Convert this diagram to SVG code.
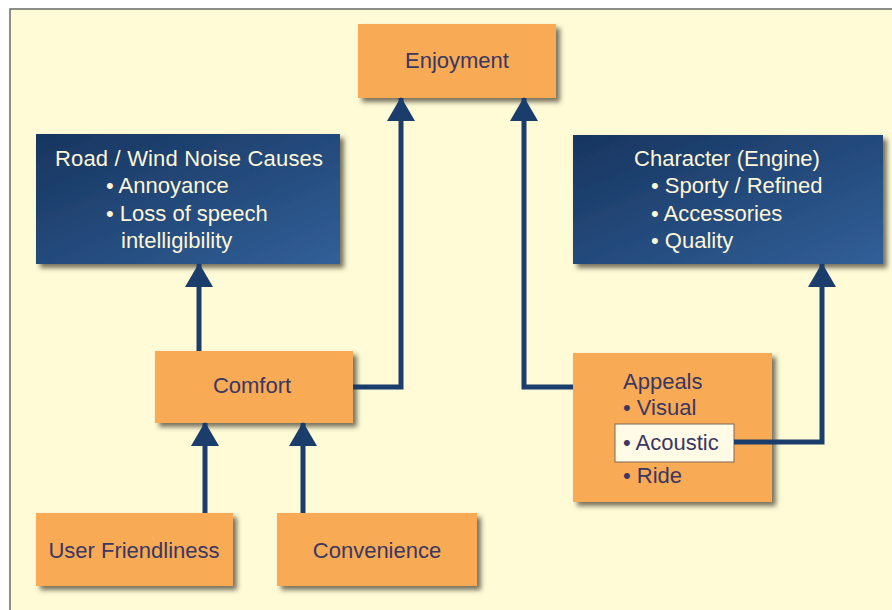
<svg xmlns="http://www.w3.org/2000/svg" width="892" height="610" viewBox="0 0 892 610">
  <defs>
    <style>
      .lbl { font-family: "Liberation Sans", Arial, sans-serif; font-size: 22px; }
      .dark { fill: #3a3763; }
      .light { fill: #fff6d8; }
      .orange { fill: #f8aa55; }
      .blue { fill: url(#blueGrad); }
      .wire { fill: none; stroke: #1b3d6b; stroke-width: 5; stroke-linejoin: miter; }
    </style>
    <linearGradient id="blueGrad" x1="0" y1="0" x2="1" y2="1">
      <stop offset="0" stop-color="#17355f"/>
      <stop offset="1" stop-color="#315f98"/>
    </linearGradient>
    <filter id="shadow" x="-10%" y="-10%" width="125%" height="130%">
      <feDropShadow dx="4" dy="4" stdDeviation="2.5" flood-color="#4a4535" flood-opacity="0.75"/>
    </filter>
    <marker id="arrow" markerUnits="userSpaceOnUse" markerWidth="24" markerHeight="28" refX="23" refY="14" orient="auto">
      <path d="M0,0 L24,14 L0,28 Z" fill="#1b3d6b"/>
    </marker>
  </defs>

  <!-- page and panel -->
  <rect x="0" y="0" width="892" height="610" fill="#ffffff"/>
  <rect x="10" y="9" width="900" height="620" fill="#fffbd7" stroke="#6a6a6a" stroke-width="1.5"/>

  <g id="enjoyment">
    <rect x="358" y="24" width="198" height="74" class="orange" filter="url(#shadow)"/>
    <text x="457" y="68" text-anchor="middle" class="lbl dark">Enjoyment</text>
  </g>

  <g id="road-wind-noise">
    <rect x="36" y="134" width="304" height="130" class="blue" filter="url(#shadow)"/>
    <text x="189" y="166" text-anchor="middle" class="lbl light" textLength="268" lengthAdjust="spacing">Road / Wind Noise Causes</text>
    <text x="106" y="193" class="lbl light">• Annoyance</text>
    <text x="106" y="221" class="lbl light">• Loss of speech</text>
    <text x="121" y="248" class="lbl light">intelligibility</text>
  </g>

  <g id="character-engine">
    <rect x="573" y="135" width="310" height="129" class="blue" filter="url(#shadow)"/>
    <text x="727" y="166" text-anchor="middle" class="lbl light">Character (Engine)</text>
    <text x="651" y="193" class="lbl light">• Sporty / Refined</text>
    <text x="651" y="221" class="lbl light">• Accessories</text>
    <text x="651" y="248" class="lbl light">• Quality</text>
  </g>

  <g id="comfort">
    <rect x="155" y="351" width="198" height="72" class="orange" filter="url(#shadow)"/>
    <text x="252" y="393" text-anchor="middle" class="lbl dark">Comfort</text>
  </g>

  <g id="appeals">
    <rect x="573" y="353" width="199" height="149" class="orange" filter="url(#shadow)"/>
    <text x="623" y="389" class="lbl dark">Appeals</text>
    <text x="623" y="415" class="lbl dark">• Visual</text>
    <rect x="615" y="424" width="119" height="38" fill="#fffbe6" stroke="#7a6a5a" stroke-width="1"/>
    <text x="623" y="450" class="lbl dark">• Acoustic</text>
    <text x="623" y="483" class="lbl dark">• Ride</text>
  </g>

  <g id="user-friendliness">
    <rect x="36" y="513" width="197" height="73" class="orange" filter="url(#shadow)"/>
    <text x="134" y="558" text-anchor="middle" class="lbl dark">User Friendliness</text>
  </g>

  <g id="convenience">
    <rect x="277" y="513" width="200" height="73" class="orange" filter="url(#shadow)"/>
    <text x="377" y="558" text-anchor="middle" class="lbl dark">Convenience</text>
  </g>

  <g id="connectors">
    <path class="wire" d="M199,351 V264" marker-end="url(#arrow)"/>
    <path class="wire" d="M205,513 V423" marker-end="url(#arrow)"/>
    <path class="wire" d="M303,513 V423" marker-end="url(#arrow)"/>
    <path class="wire" d="M353,387 H401 V98" marker-end="url(#arrow)"/>
    <path class="wire" d="M573,387 H524 V98" marker-end="url(#arrow)"/>
    <path class="wire" d="M734,442 H822 V264" marker-end="url(#arrow)"/>
  </g>
</svg>
